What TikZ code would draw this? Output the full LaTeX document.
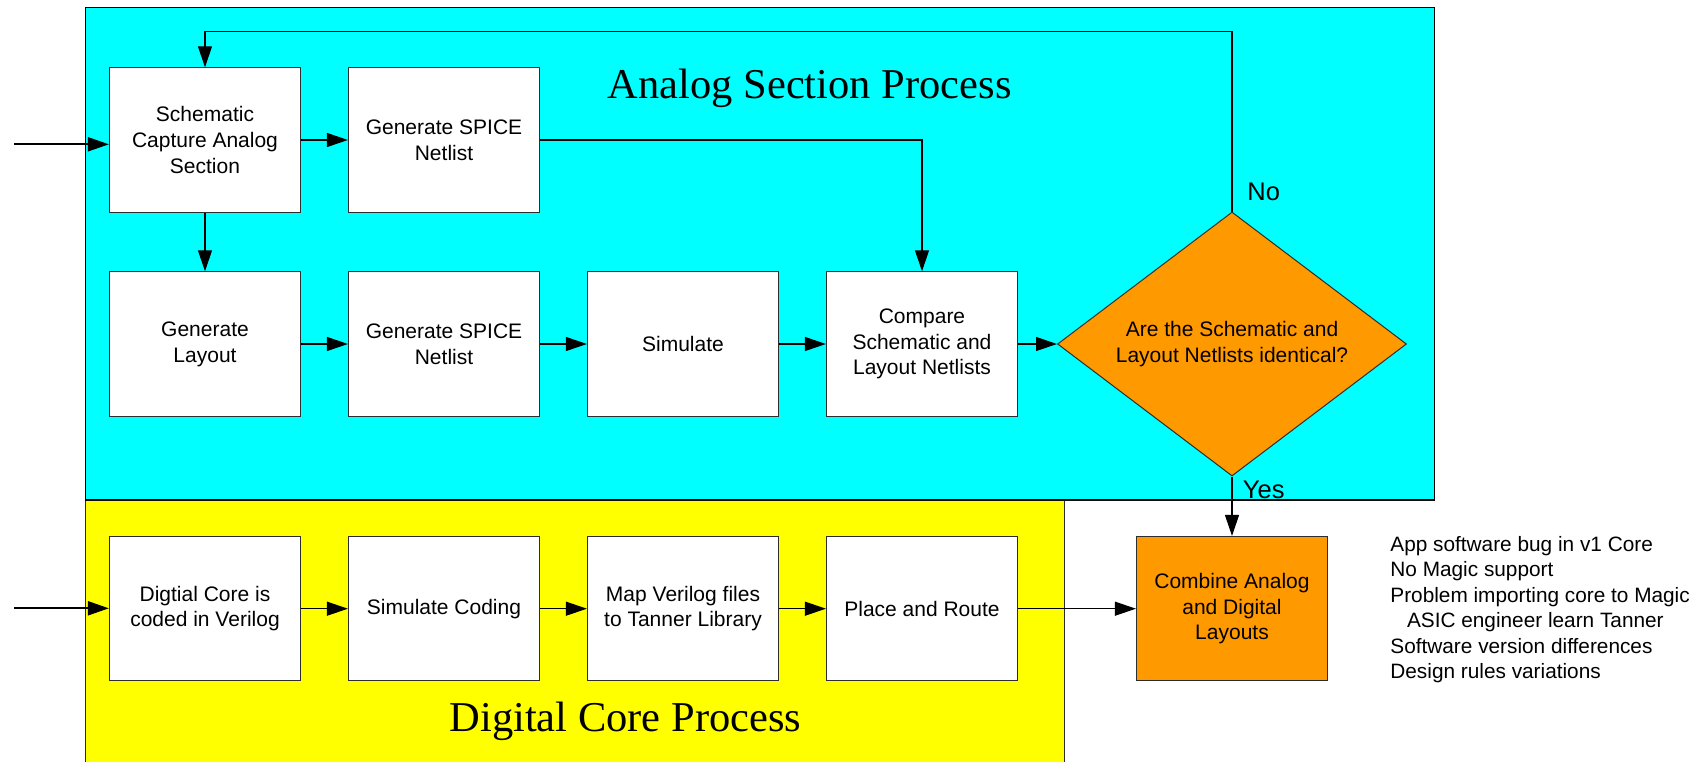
\documentclass[tikz,border=0pt]{standalone}
\usepackage{fontspec}
\setmainfont{Liberation Sans}
\newfontfamily\titlefont{Liberation Serif}
\usetikzlibrary{arrows.meta,shapes.geometric}
\definecolor{acyan}{RGB}{0,255,255}
\definecolor{dyellow}{RGB}{255,255,0}
\definecolor{dorange}{RGB}{255,153,0}
\definecolor{edgegray}{RGB}{45,45,45}
\begin{document}
\begin{tikzpicture}[x=0.5pt,y=-0.5pt,
  proc/.style={draw=edgegray, line width=0.6pt, fill=white,
    minimum width=95.5pt, minimum height=72.15pt, inner sep=0pt,
    align=center, font=\fontsize{10.5}{12.85}\selectfont},
  decision/.style={shape=diamond, draw=edgegray, line width=0.5pt, fill=dorange,
    minimum width=174.5pt, minimum height=132pt, aspect=1.32, inner sep=0pt,
    align=center, font=\fontsize{10.5}{13.2}\selectfont},
  flow/.style={draw=black, line width=0.6pt, -{Triangle[length=10.5pt,width=7pt]}},
  inflow/.style={flow, line width=1pt},
  lbl/.style={inner sep=0pt, font=\fontsize{12.75}{15}\selectfont},
  note/.style={inner sep=0pt, anchor=base west, font=\fontsize{10.4}{12.75}\selectfont},
  title/.style={inner sep=0pt, anchor=base, font=\titlefont\fontsize{21.25}{25}\selectfont}
]
\useasboundingbox (0,0) rectangle (1704,761);
\clip (0,0) rectangle (1704,761);

% regions
\path[fill=dyellow] (85.6,500) rectangle (1064.6,775);
\draw[draw=edgegray, line width=0.7pt] (85.6,500) -- (85.6,775) (1064.6,500) -- (1064.6,775);
\draw[fill=acyan, draw=black, line width=0.8pt] (85.3,7.3) rectangle (1434.6,500);

% titles
\node[title] (tA) at (809.7,98.3) {Analog Section Process};
\node[title] (tD) at (625.4,731.7) {Digital Core Process};

% analog nodes
\node[proc] (sch) at (205,140) {Schematic\\Capture Analog\\Section};
\node[proc] (sp1) at (444,140) {Generate SPICE\\Netlist};
\node[proc] (lay) at (205,344) {Generate\\Layout};
\node[proc] (sp2) at (444,344) {Generate SPICE\\Netlist};
\node[proc] (sim) at (683,344) {Simulate};
\node[proc] (cmp) at (922,344) {Compare\\Schematic and\\Layout Netlists};
\node[decision] (dec) at (1232,344) {Are the Schematic and\\Layout Netlists identical?};

% digital nodes
\node[proc] (dg1) at (205,608.7) {Digtial Core is\\coded in Verilog};
\node[proc] (dg2) at (444,608.7) {Simulate Coding};
\node[proc] (dg3) at (683,608.7) {Map Verilog files\\to Tanner Library};
\node[proc] (dg4) at (922,608.7) {Place and Route};
\node[proc, fill=dorange] (comb) at (1232,608.7) {Combine Analog\\and Digital\\Layouts};

% connectors analog
\coordinate (inA) at (14,144.3);
\draw[inflow] (inA) -- (inA -| sch.west);
\draw[flow] (sch.east) -- (sp1.west);
\draw[flow] (sch.south) -- (lay.north);
\draw[flow] (sp1.east) -| (cmp.north);
\draw[flow] (lay) -- (sp2);
\draw[flow] (sp2) -- (sim);
\draw[flow] (sim) -- (cmp);
\draw[flow] (cmp) -- (dec);
\coordinate (fb) at (1232,31.7);
\draw[flow] (dec.north) -- (fb) -| (sch.north);
\draw[flow] (dec.south) -- (comb.north);

% connectors digital
\coordinate (inD) at (14,608.3);
\draw[inflow] (inD) -- (inD -| dg1.west);
\draw[flow] (dg1) -- (dg2);
\draw[flow] (dg2) -- (dg3);
\draw[flow] (dg3) -- (dg4);
\draw[flow] (dg4) -- (comb);

% labels
\node[lbl, anchor=base west] (no) at (1247,200) {No};
\node[lbl, anchor=base west] (yes) at (1242.5,498) {Yes};

% notes
\node[note] (n1) at (1390,551) {App software bug in v1 Core};
\node[note] (n2) at (1390,576.5) {No Magic support};
\node[note] (n3) at (1390,602) {Problem importing core to Magic};
\node[note] (n4) at (1406.6,627.5) {ASIC engineer learn Tanner};
\node[note] (n5) at (1390,653) {Software version differences};
\node[note] (n6) at (1390,678.5) {Design rules variations};
\end{tikzpicture}
\end{document}
